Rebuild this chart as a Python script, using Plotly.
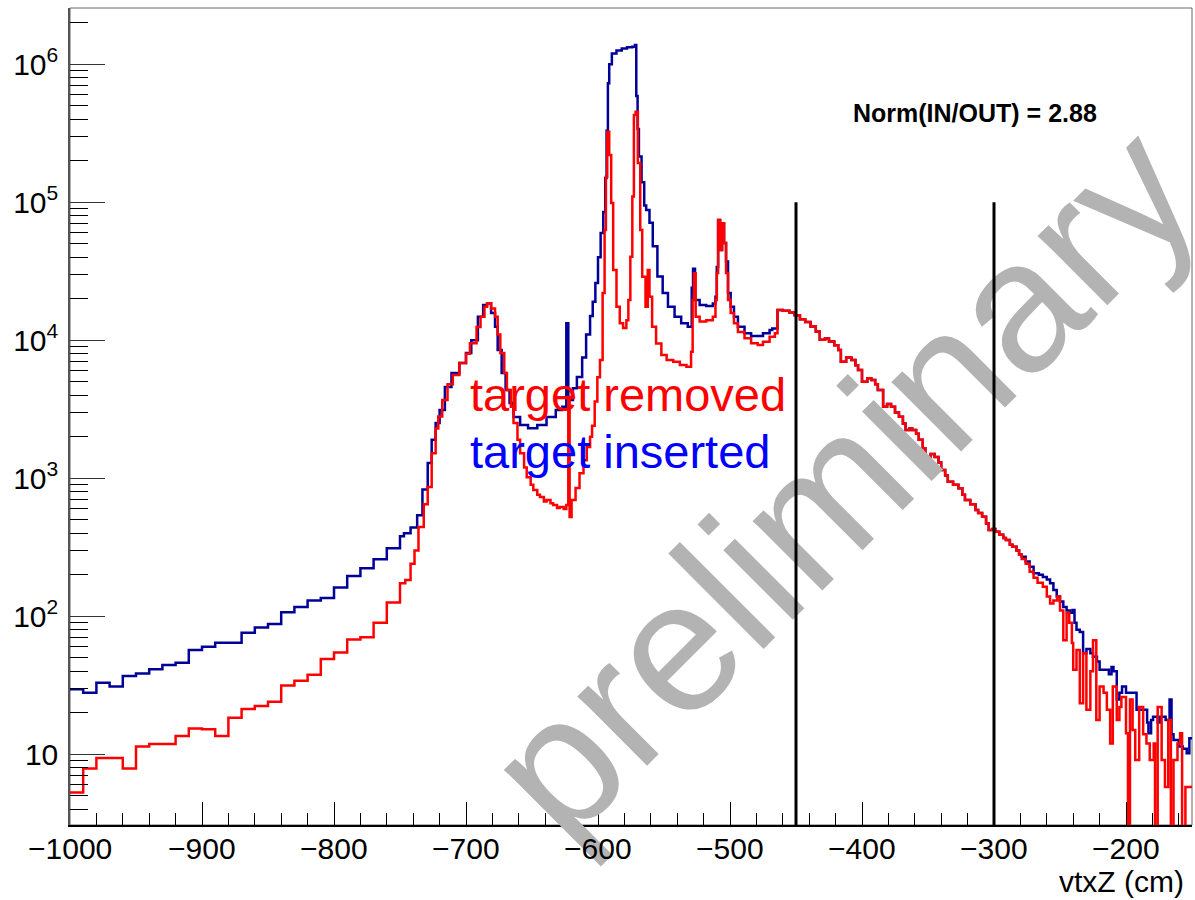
import plotly.graph_objects as go

FONT = "Liberation Sans, Arial, Helvetica, sans-serif"
X_MIN, X_MAX = -1000, -150
Y_LOG_MIN, Y_LOG_MAX = 0.488, 6.408

# ---------------- data ----------------
# coarse 10 cm bins, lower edges -1000 ... -760
coarse_lo = list(range(-1000, -750, 10))
blue_coarse = [29.6, 28, 33, 31, 37, 38.6, 41.3, 44.4, 46.1, 57,
               60.2, 64.4, 64.4, 76, 83, 88, 107, 117, 130, 136,
               162, 196, 223, 259, 311]
red_coarse = [5.3, 7.9, 9.4, 9.4, 7.9, 11.4, 11.9, 11.9, 13.6, 15.4,
              15.2, 13.6, 18.4, 21.3, 22.4, 24, 31.6, 34.1, 37.7, 49,
              54.8, 68, 70.4, 90, 126]

# target inserted, fine bins (lower edge, content)
blue_fine_x = [-750, -747, -742, -737, -733, -729, -726, -723, -720, -716,
               -711, -705, -700, -696, -691, -687, -684, -681, -678, -676,
               -673, -670, -667, -664, -659, -653, -646, -639, -632, -627,
               -624, -622.5, -619, -616, -612, -609, -606, -604, -602, -600,
               -598, -596, -594.5, -593.5, -592.5, -591.5, -589.5, -586, -582, -578,
               -574, -572, -571, -570, -569, -567, -565, -563.5, -561, -558.5,
               -555, -551, -547, -542, -537, -532, -529, -528, -526.5, -523,
               -518, -513, -511, -510, -509, -507.5, -506, -504.5, -503, -501.5,
               -499.5, -497, -494, -489, -484, -479, -475, -470, -468]
blue_fine_y = [380, 400, 440, 540, 830, 1290, 1900, 2520, 3130, 4590,
               5790, 6840, 8090, 10000, 14800, 18000, 18600, 15800, 12550, 8500,
               5790, 4370, 3510, 2780, 2430, 2310, 2430, 2780, 3130, 3300,
               13300, 3690, 4500, 5420, 7500, 11000, 15000, 19000, 26000, 40000,
               60000, 85000, 150000, 330000, 730000, 1.0e6, 1.2e6, 1.26e6, 1.3e6, 1.33e6,
               1.34e6, 1.38e6, 590000, 340000, 215000, 140000, 95000, 88000, 71000, 48000,
               29000, 22000, 17500, 14800, 13300, 12550, 24000, 33000, 19580, 18000,
               17700, 18500, 20700, 34000, 74500, 45100, 70400, 50700, 37200, 22000,
               17500, 14800, 12550, 11250, 10750, 10750, 11250, 11880, 12200]

# target removed, fine bins
red_fine_x = [-750, -746, -742, -739, -736, -732, -729, -726, -723, -721,
              -718, -714, -710, -705, -700, -697, -692, -689, -686, -684,
              -681, -678, -676, -674, -671, -669, -666, -664, -661, -659,
              -656, -654, -651, -649, -646, -644, -641, -639, -636, -634,
              -631, -629, -626, -624, -622.5, -621.5, -620, -617, -614, -611,
              -608.5, -606, -604.5, -602.5, -600.5, -598.5, -596.5, -595, -594, -593,
              -591.5, -590, -588.5, -586, -583.5, -581, -578.5, -577, -575.5, -574,
              -572.8, -571.5, -569.8, -568, -566.5, -564, -562.3, -561, -559, -556,
              -552, -548, -543, -538, -533, -529.5, -528.3, -527.3, -526, -523,
              -518, -513, -511, -510, -509, -507.5, -506, -504.5, -503, -501.5,
              -499.5, -497, -494, -489, -484, -479, -475, -470, -466]
red_fine_y = [174, 183, 240, 300, 444, 650, 864, 1520, 2300, 2800,
              3690, 4800, 5600, 6840, 8000, 9510, 12500, 14800, 17500, 18600,
              17000, 14800, 11000, 8090, 5800, 4370, 3300, 2520, 1900, 1520,
              1200, 1020, 900, 823, 760, 732, 680, 696, 660, 641,
              610, 620, 600, 641, 3880, 525, 696, 850, 1090, 1350,
              1690, 2000, 2400, 3600, 5400, 7200, 22000, 63000, 153000, 325000,
              220000, 99000, 32300, 17500, 13300, 12300, 14000, 19580, 40400, 110000,
              430000, 454000, 193000, 63000, 28900, 17500, 32300, 20700, 12550, 9500,
              7820, 7190, 7000, 6620, 6440, 8270, 19580, 30600, 14800, 13700,
              14000, 14800, 19580, 30800, 74500, 45100, 70400, 50700, 30800, 19580,
              15800, 13300, 11500, 10330, 9510, 9240, 9770, 10600, 11250]

# region where both samples coincide
common_x = [-464, -460, -455, -451, -447, -443, -439, -435, -432, -428,
            -425, -421, -418, -416, -412, -408, -405, -403, -400, -396,
            -393, -390, -388, -384, -381, -378, -375, -372, -369, -367,
            -364, -362, -359, -357, -354, -352, -348, -345, -342, -340,
            -337, -335, -331, -327, -324, -322, -318, -314, -312, -309,
            -306, -304, -301, -299, -296, -293, -291, -288, -286, -283, -281]
common_y = [16600, 16400, 15900, 15200, 14200, 13600, 12600, 11600, 10100, 10300,
            9800, 9200, 8500, 7000, 7500, 7190, 6600, 6100, 5010, 5300,
            5150, 4800, 4370, 3300, 3450, 3300, 3000, 2790, 2500, 2240,
            2300, 2240, 2100, 1900, 1650, 1430, 1500, 1430, 1300, 1150,
            1050, 944, 900, 846, 760, 696, 650, 590, 560, 527,
            470, 422, 430, 410, 390, 370, 357, 330, 319, 300, 280]

blue_tail_x = [-279, -276, -273, -270, -266, -263, -260, -257.5, -255, -252.5,
               -250, -247.5, -245, -242.5, -240.5, -239, -237.5, -235, -232.5, -230,
               -227, -225, -222, -220, -216, -213, -211, -209.5, -207, -205,
               -203, -200, -196, -192, -187, -184, -183, -181, -179.5, -176,
               -174, -170, -167, -165.5, -164, -160, -157, -154, -152]
blue_tail_y = [270, 250, 229, 205, 200, 193, 185, 174, 155, 139,
               128, 117, 110, 106, 111, 90, 80, 77, 54, 58,
               54, 51, 47, 41, 41, 38, 43, 40, 25, 28,
               31, 28, 28, 21, 21, 17, 14.2, 17.7, 18.7, 17,
               18.7, 17.7, 25, 14, 12.7, 11.4, 11, 10.2, 13.1]

red_tail_x = [-279, -276, -273, -270, -267, -263, -260, -257.5, -255, -252,
              -250, -247.5, -245, -243, -241, -240, -237.5, -235, -232.5, -230,
              -227, -225, -222.5, -220, -217, -214.5, -212, -210, -207, -205,
              -203.5, -200, -198.5, -197, -195, -193, -190, -187, -184.5, -182,
              -179, -178, -176, -173, -170.5, -168, -166, -164, -161, -159,
              -157.5, -155, -152]
red_tail_y = [260, 240, 210, 190, 175, 164, 139, 124, 130, 139,
              110, 67, 106, 90, 64, 41, 57, 23.5, 54, 21,
              40, 67, 17.7, 31, 28, 21, 12, 31, 17.7, 22,
              26, 14.2, 1, 25, 15, 9.1, 22, 14, 12, 9.1,
              12, 1, 22, 9.1, 5.8, 17.7, 1, 9.1, 12, 14.2,
              1, 5.8, 5.8]

cut_x = [-450, -300]
cut_top = 1e5
norm_text = "Norm(IN/OUT) = 2.88"
x_ticks = list(range(-1000, -150, 100))
y_ticks = [10, 100, 1000, 10000, 100000, 1000000]
y_ticktext = ["10", "10<sup>2</sup>", "10<sup>3</sup>", "10<sup>4</sup>",
              "10<sup>5</sup>", "10<sup>6</sup>"]

# ---------------- build step histograms ----------------
def steps(xs, ys):
    xs = list(xs) + [X_MAX]
    ys = list(ys) + [ys[-1]]
    return xs, ys

bx, by = steps(coarse_lo + blue_fine_x + common_x + blue_tail_x,
               blue_coarse + blue_fine_y + common_y + blue_tail_y)
rx, ry = steps(coarse_lo + red_fine_x + common_x + red_tail_x,
               red_coarse + red_fine_y + common_y + red_tail_y)

fig = go.Figure()
fig.add_trace(go.Scatter(x=bx, y=by, mode="lines", line_shape="hv",
                         line=dict(color="#000099", width=2.5), hoverinfo="skip"))
fig.add_trace(go.Scatter(x=rx, y=ry, mode="lines", line_shape="hv",
                         line=dict(color="#ff0000", width=2.5), hoverinfo="skip"))

# ---------------- layout ----------------
W, H = 1195, 900
ML, MR, MT, MB = 70, 3, 8, 75
PW, PH = W - ML - MR, H - MT - MB

def px(xp):
    return (xp - ML) / PW

def py(yp):
    return (H - MB - yp) / PH

minor_y = [m * 10 ** k for k in range(0, 7) for m in range(2, 10)]

fig.update_layout(
    width=W, height=H,
    margin=dict(l=ML, r=MR, t=MT, b=MB),
    paper_bgcolor="white", plot_bgcolor="white",
    showlegend=False,
    font=dict(family=FONT, color="black"),
    xaxis=dict(range=[X_MIN, X_MAX], showgrid=False, zeroline=False,
               showline=True, linecolor="black", linewidth=2,
               ticks="inside", ticklen=23, tickwidth=1, tickcolor="black",
               tickvals=x_ticks, showticklabels=False,
               minor=dict(ticks="inside", ticklen=12, tickwidth=1, tickcolor="black",
                          dtick=20, tick0=-1000, showgrid=False)),
    yaxis=dict(type="log", range=[Y_LOG_MIN, Y_LOG_MAX], showgrid=False, zeroline=False,
               showline=True, linecolor="#555555", linewidth=1.5,
               ticks="inside", ticklen=35, tickwidth=1, tickcolor="#333333",
               tickvals=y_ticks, ticktext=y_ticktext,
               tickfont=dict(size=30, family=FONT), ticklabelstandoff=4,
               minor=dict(ticks="inside", ticklen=18, tickwidth=1, tickcolor="black",
                          tickvals=minor_y, showgrid=False)),
)

shapes = [
    dict(type="rect", xref="paper", yref="paper", x0=0, x1=1, y0=0, y1=1,
         line=dict(color="#666666", width=1), layer="below"),
    # watermark: above curves and axes, below the cut lines
    dict(type="rect", xref="paper", yref="paper",
         x0=px(798), x1=px(858), y0=py(498), y1=py(438),
         line=dict(width=0), fillcolor="rgba(0,0,0,0)", layer="above",
         label=dict(text="preliminary", textangle=-45, textposition="middle center",
                    font=dict(size=186, color="#b3b3b3", family=FONT))),
]
for cx in cut_x:
    shapes.append(dict(type="line", xref="x", yref="y", x0=cx, x1=cx,
                       y0=10 ** Y_LOG_MIN, y1=cut_top,
                       line=dict(color="black", width=3), layer="above"))
fig.update_layout(shapes=shapes)

# x tick labels
for v in x_ticks:
    fig.add_annotation(x=v, xref="x", y=py(848), yref="paper", showarrow=False,
                       text="\u2212" + str(abs(v)),
                       font=dict(size=30, family=FONT, color="black"),
                       xanchor="center", yanchor="middle")

fig.add_annotation(x=px(975), y=py(113), xref="paper", yref="paper", showarrow=False,
                   text="<b>" + norm_text + "</b>", font=dict(size=25, family=FONT, color="black"),
                   xanchor="center", yanchor="middle")
fig.add_annotation(x=px(468), y=py(394), xref="paper", yref="paper", showarrow=False,
                   text="target removed", font=dict(size=47, family=FONT, color="#ff0000"),
                   xanchor="left", yanchor="middle")
fig.add_annotation(x=px(468), y=py(451), xref="paper", yref="paper", showarrow=False,
                   text="target inserted", font=dict(size=47, family=FONT, color="#0000ff"),
                   xanchor="left", yanchor="middle")
fig.add_annotation(x=px(1186), y=py(882), xref="paper", yref="paper", showarrow=False,
                   text="vtxZ (cm)", font=dict(size=30, family=FONT, color="black"),
                   xanchor="right", yanchor="middle")

fig.write_html("out.html")
